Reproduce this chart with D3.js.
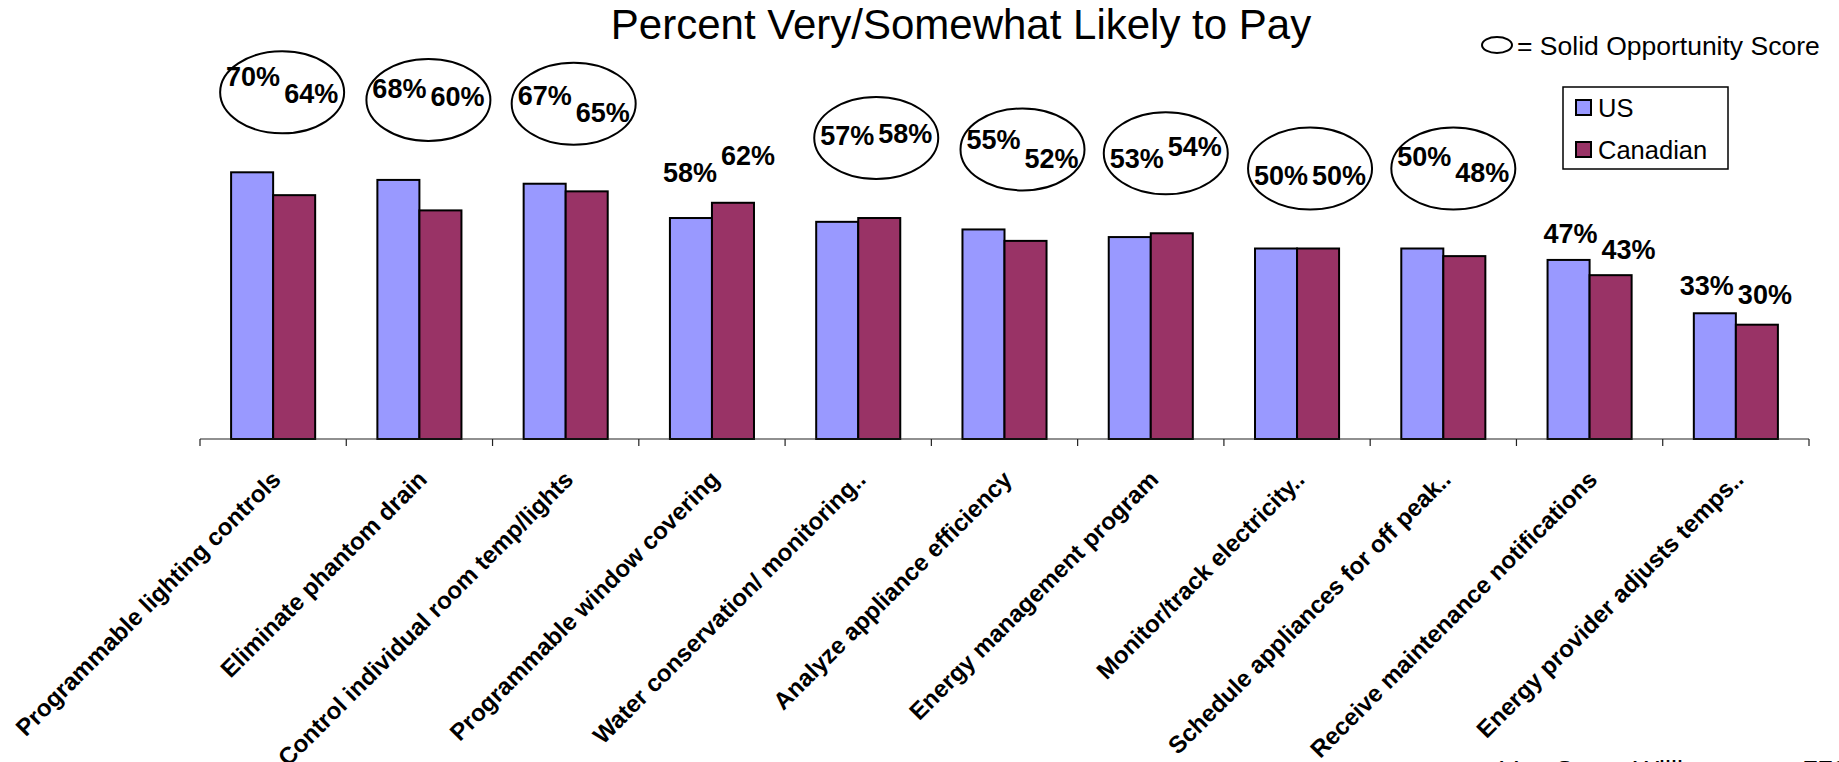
<!DOCTYPE html>
<html>
<head>
<meta charset="utf-8">
<script src="https://cdn.jsdelivr.net/npm/d3@7/dist/d3.min.js"></script>
<style>
  html, body { margin: 0; padding: 0; background: #fff; }
  svg { display: block; font-family: "Liberation Sans", Arial, sans-serif; }
</style>
</head>
<body>
<div id="chart"></div>
<script>
// Dados
const categories = [
  "Programmable lighting controls",
  "Eliminate phantom drain",
  "Control individual room temp/lights",
  "Programmable window covering",
  "Water conservation/ monitoring..",
  "Analyze appliance efficiency",
  "Energy management program",
  "Monitor/track electricity..",
  "Schedule appliances for off peak..",
  "Receive maintenance notifications",
  "Energy provider adjusts temps.."
];
const seriesNames = ["US", "Canadian"];
const usValues  = [70, 68, 67, 58, 57, 55, 53, 50, 50, 47, 33];
const canValues = [64, 60, 65, 62, 58, 52, 54, 50, 48, 43, 30];
const solidOpportunity = [true, true, true, false, true, true, true, true, true, false, false];

// Ajustes de posição dos rótulos (px), como no slide original
const labelSplit = [9, 9, 8, 7, 18, 18, 15, 13, 10, 10, 0];
const usRise  = [86, 82, 79, 36, 77, 80, 69, 64, 83, 17, 18];
const canRise = [92, 104, 69, 38, 75, 73, 77, 64, 74, 16, 21];

const colors = { US: "#9999FF", Canadian: "#993366" };

const W = 1839, H = 762;
const plot = { left: 200, right: 1809, top: 58, bottom: 439 };

const svg = d3.select("#chart").append("svg")
    .attr("width", W)
    .attr("height", H)
    .style("overflow", "hidden");

svg.append("rect").attr("width", W).attr("height", H).attr("fill", "#fff");

// Escalas
const x0 = d3.scaleBand()
    .domain(categories)
    .range([plot.left, plot.right])
    .padding(0);

const x1 = d3.scaleBand()
    .domain(seriesNames)
    .range([0, x0.bandwidth()])
    .paddingInner(0)
    .paddingOuter(0.74);

const y = d3.scaleLinear()
    .domain([0, 100])
    .range([plot.bottom, plot.top]);

const rows = categories.map((c, i) => ({
  cat: c, i,
  values: [
    { key: "US", value: usValues[i] },
    { key: "Canadian", value: canValues[i] }
  ]
}));

// Barras
const groups = svg.append("g").selectAll("g")
  .data(rows)
  .join("g")
    .attr("transform", d => `translate(${x0(d.cat)},0)`);

groups.selectAll("rect")
  .data(d => d.values)
  .join("rect")
    .attr("x", d => x1(d.key))
    .attr("y", d => y(d.value))
    .attr("width", x1.bandwidth())
    .attr("height", d => y(0) - y(d.value))
    .attr("fill", d => colors[d.key])
    .attr("stroke", "#000")
    .attr("stroke-width", 2);

// Eixo X
const axis = svg.append("g");
axis.append("line")
    .attr("x1", plot.left).attr("x2", plot.right)
    .attr("y1", y(0)).attr("y2", y(0))
    .attr("stroke", "#222").attr("stroke-width", 1.2);

const tickPos = categories.map(c => x0(c)).concat([plot.right]);
axis.selectAll("line.tick")
  .data(tickPos)
  .join("line")
    .attr("class", "tick")
    .attr("x1", d => d).attr("x2", d => d)
    .attr("y1", y(0)).attr("y2", y(0) + 7)
    .attr("stroke", "#222").attr("stroke-width", 1.2);

// Rótulos das categorias (45°)
axis.selectAll("text.cat")
  .data(categories)
  .join("text")
    .attr("class", "cat")
    .attr("transform", d => `translate(${x0(d) + x0.bandwidth() / 2 + 9},481) rotate(-45)`)
    .attr("text-anchor", "end")
    .style("font-size", "24px")
    .style("font-weight", "bold")
    .text(d => d);

// Elipses "Solid Opportunity"
const cx = i => x0(categories[i]) + x0.bandwidth() / 2 + labelSplit[i];

svg.append("g").selectAll("ellipse")
  .data(rows.filter(d => solidOpportunity[d.i]))
  .join("ellipse")
    .attr("cx", d => cx(d.i))
    .attr("cy", d => y(Math.max(usValues[d.i], canValues[d.i])) - 80)
    .attr("rx", 62)
    .attr("ry", 41)
    .attr("fill", "none")
    .attr("stroke", "#000")
    .attr("stroke-width", 2);

// Rótulos de valores
const labels = svg.append("g")
    .style("font-size", "27px")
    .style("font-weight", "bold");

labels.selectAll("text.us")
  .data(rows)
  .join("text")
    .attr("class", "us")
    .attr("x", d => cx(d.i) - 2)
    .attr("y", d => y(usValues[d.i]) - usRise[d.i])
    .attr("text-anchor", "end")
    .text(d => usValues[d.i] + "%");

labels.selectAll("text.can")
  .data(rows)
  .join("text")
    .attr("class", "can")
    .attr("x", d => cx(d.i) + 2)
    .attr("y", d => y(canValues[d.i]) - canRise[d.i])
    .attr("text-anchor", "start")
    .text(d => canValues[d.i] + "%");

// Título
svg.append("text")
    .attr("x", 961)
    .attr("y", 39)
    .attr("text-anchor", "middle")
    .style("font-size", "42px")
    .text("Percent Very/Somewhat Likely to Pay");

// Nota da elipse
svg.append("ellipse")
    .attr("cx", 1497).attr("cy", 45)
    .attr("rx", 15).attr("ry", 8)
    .attr("fill", "none").attr("stroke", "#000").attr("stroke-width", 2);
svg.append("text")
    .attr("x", 1517).attr("y", 55)
    .style("font-size", "26.5px")
    .text("= Solid Opportunity Score");

// Legenda
const legend = svg.append("g");
legend.append("rect")
    .attr("x", 1563).attr("y", 87)
    .attr("width", 165).attr("height", 82)
    .attr("fill", "#fff").attr("stroke", "#000").attr("stroke-width", 1.5);

const legItems = legend.selectAll("g.item")
  .data(seriesNames)
  .join("g")
    .attr("class", "item")
    .attr("transform", (d, i) => `translate(1576,${100 + i * 42})`);

legItems.append("rect")
    .attr("width", 15).attr("height", 15)
    .attr("fill", d => colors[d])
    .attr("stroke", "#000").attr("stroke-width", 2);

legItems.append("text")
    .attr("x", 22).attr("y", 17)
    .style("font-size", "25.5px")
    .text(d => d);

// Rodapé (cortado na borda inferior)
svg.append("text")
    .attr("x", 1500).attr("y", 780)
    .style("font-size", "27px")
    .text("Vgo Stone Williams");
svg.append("text")
    .attr("x", 1803).attr("y", 780)
    .style("font-size", "27px")
    .text("778");
</script>
</body>
</html>
